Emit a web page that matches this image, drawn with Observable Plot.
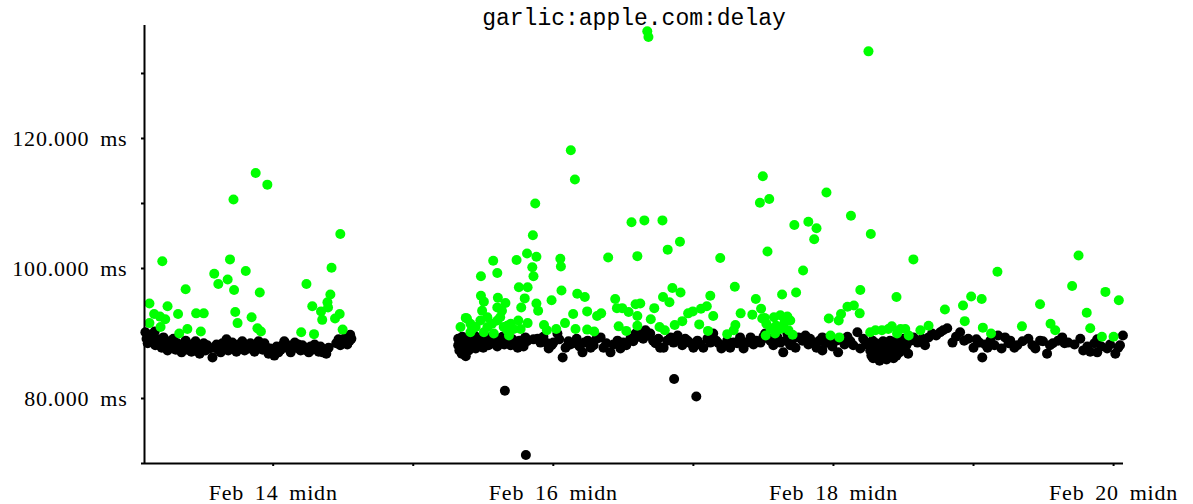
<!DOCTYPE html>
<html><head><meta charset="utf-8">
<script src="https://cdn.jsdelivr.net/npm/d3@7"></script>
<script src="https://cdn.jsdelivr.net/npm/@observablehq/plot@0.6"></script>
<style>
body{margin:0;background:#fff}
g[aria-label$="tick label"]{letter-spacing:0.8px;word-spacing:4.5px}
</style>
</head><body><div id="chart"></div>
<script>
const title = "garlic:apple.com:delay";
// time is hours after Feb 13 00:00, value is delay in ms
const startDate = Date.UTC(2009, 1, 13);
const xDomainHours = [1.95, 169.7];
const yDomain = [70, 137.38];
const xTickDays = [14, 15, 16, 17, 18, 19, 20];
const xLabelDays = [14, 16, 18, 20];
const yTicks = [70, 80, 90, 100, 110, 120, 130];
const yLabelTicks = [80, 100, 120];

const blackPeriod1 = [[2.1,90.2],[2.3,89.2],[2.5,88.5],[2.8,89.8],[3.0,88.9],[3.3,89.5],[3.7,90.3],[3.8,88.2],[4.2,89.1],[4.5,88.6],[4.9,87.8],[5.2,89.4],[5.5,88.3],[5.9,87.4],[6.2,88.8],[6.6,88.0],[6.9,89.2],[7.3,87.5],[7.6,88.5],[7.9,87.8],[8.3,87.1],[8.6,88.2],[9.0,88.9],[9.3,87.5],[9.7,88.3],[10.0,87.2],[10.3,88.0],[10.7,88.8],[11.0,87.7],[11.4,86.9],[11.7,88.0],[12.1,88.5],[12.4,87.4],[12.7,88.2],[13.1,87.7],[13.6,86.3],[13.9,87.8],[14.3,88.3],[14.6,87.5],[15.0,87.1],[15.3,88.5],[15.7,87.8],[16.0,89.1],[16.3,87.4],[16.7,88.2],[17.0,88.6],[17.4,87.7],[17.7,87.2],[18.1,88.3],[18.4,87.8],[18.7,88.8],[19.1,87.4],[19.4,88.2],[19.8,87.7],[20.1,88.5],[20.5,87.8],[20.8,87.2],[21.1,88.0],[21.5,88.8],[21.8,88.3],[22.2,87.5],[22.5,88.5],[22.9,87.8],[23.2,86.9],[23.5,87.7],[23.9,87.4],[24.2,86.6],[24.6,88.0],[24.9,87.1],[25.3,87.5],[25.6,88.2],[25.9,88.8],[26.3,88.3],[26.6,87.7],[27.0,87.1],[27.3,88.0],[27.7,88.6],[28.0,87.8],[28.3,88.3],[28.7,87.4],[29.0,88.2],[29.4,87.5],[29.7,87.8],[30.1,87.1],[30.4,88.0],[30.7,87.5],[31.1,88.3],[31.4,87.7],[31.8,87.2],[32.1,88.0],[32.5,87.1],[32.8,87.5],[33.1,86.9],[33.5,87.8],[34.8,88.5],[35.2,89.1],[35.5,88.2],[36.0,88.8],[36.4,89.4],[36.7,88.3],[37.1,88.9],[37.2,89.8],[37.4,89.2]];

const greenPeriod1 = [[21.0,114.7],[23.0,112.9],[17.2,110.6],[35.5,105.3],[5.0,101.1],[16.6,101.4],[34.0,100.1],[19.3,99.6],[13.9,99.2],[16.2,98.3],[14.6,97.6],[29.7,97.6],[9.0,96.8],[17.3,96.7],[21.7,96.3],[33.8,96.0],[2.8,94.6],[5.9,94.2],[33.3,94.8],[33.4,94.0],[30.7,94.2],[32.2,93.4],[3.6,93.0],[4.6,92.6],[5.5,92.2],[7.7,93.0],[10.8,93.1],[12.1,93.1],[17.5,93.3],[20.3,92.5],[32.4,92.1],[34.6,92.3],[35.4,93.0],[17.9,91.6],[2.8,91.6],[4.7,91.0],[9.3,90.7],[11.6,90.3],[21.3,90.8],[21.9,90.3],[7.9,90.0],[28.8,90.2],[31.0,89.9],[35.9,90.6]];

const blackPeriod2 = [[55.7,89.2],[55.7,88.2],[55.9,87.4],[56.1,88.8],[56.3,86.9],[56.4,89.5],[56.6,87.8],[56.8,88.6],[57.0,86.5],[57.1,89.1],[57.3,88.3],[57.5,87.4],[57.8,89.4],[58.0,88.0],[58.1,88.8],[58.5,89.7],[58.7,87.7],[58.8,88.5],[59.2,89.2],[59.3,88.2],[59.5,88.9],[59.9,89.5],[60.0,87.8],[60.4,88.6],[60.7,89.1],[60.9,88.2],[61.2,89.4],[61.6,88.5],[61.7,89.7],[62.1,88.9],[62.4,88.0],[62.8,89.2],[62.9,88.6],[63.3,89.5],[63.6,88.3],[64.0,89.2],[64.3,88.8],[64.7,88.2],[65.0,89.1],[65.5,88.6],[65.9,87.8],[66.2,88.9],[66.5,88.3],[66.9,88.0],[67.2,89.4],[67.5,88.8],
[68.6,89.1],[69.3,89.2],[69.8,88.6],[70.3,89.5],[71.0,88.5],[71.2,87.7],[71.7,88.2],[72.0,88.6],[72.7,90.0],[73.0,89.1],[73.6,86.3],[74.1,87.8],[74.6,88.8],[74.9,88.3],[75.4,88.5],[76.0,89.2],[76.5,88.0],[77.0,87.1],[77.3,88.6],[77.9,88.9],[78.4,87.8],[78.9,88.2],[79.4,89.2],[80.1,89.4],[80.6,87.8],[81.1,88.5],[81.8,87.1],[82.3,88.3],[83.0,88.9],[83.5,87.7],[84.0,88.6],[84.5,88.2],[85.2,89.2],[85.7,88.8],[86.1,90.0],[86.6,89.5],
[86.9,90.2],[87.4,89.2],[87.8,90.5],[88.3,89.7],[88.6,90.0],[89.1,88.9],[89.5,88.5],[90.0,89.2],[90.3,87.8],[90.9,87.8],[91.5,88.9],[92.1,89.4],[92.6,88.6],[93.3,89.7],[93.8,88.9],[94.1,88.2],[94.6,89.2],[95.0,88.9],[95.5,88.5],[96.0,87.8],[96.7,88.9],[97.2,88.3],[97.7,87.8],[98.4,89.2],[98.9,88.6],[99.4,90.0],[99.9,88.9],[100.3,88.5],[100.8,87.7],[101.3,88.2],[101.8,88.9],[102.3,87.8],[102.9,88.6],[103.5,88.5],[104.0,89.4],[104.6,87.7],[105.1,88.6],[105.8,89.4],[106.3,88.3],[106.8,88.9],[107.5,88.6],[108.0,89.5],[108.3,90.0],[108.9,89.2],[109.2,88.9],[109.7,88.2],[110.1,89.7],[110.4,89.4],[110.9,88.6],[111.4,87.1],[111.8,88.9],[112.1,90.0],[112.6,88.2],[113.1,89.2],[113.5,87.8],[114.0,89.4],
[114.7,88.9],[115.2,89.7],[115.7,88.3],[116.0,89.2],[116.6,88.6],[117.1,87.8],[117.6,88.9],[118.1,89.4],[118.1,87.4],[118.6,88.5],[119.3,89.1],[119.8,88.0],[120.5,88.9],[120.8,87.1],[121.3,89.1],[121.9,88.3],[122.4,89.5],[122.9,88.8],[123.4,88.2],[124.1,90.2],[124.6,87.7],[125.1,89.2],[125.6,88.5],
[126.0,88.2],[126.3,87.4],[126.5,86.6],[126.7,88.9],[126.8,86.2],[127.0,87.8],[127.2,87.1],[127.3,88.5],[127.5,86.5],[127.7,87.5],[127.9,85.8],[128.0,88.2],[128.2,87.1],[128.4,86.3],[128.5,88.8],[128.7,87.7],[128.9,86.8],[129.1,86.0],[129.2,88.2],[129.4,87.2],[129.6,86.5],[129.7,88.9],[129.9,87.8],[130.1,86.9],[130.3,86.2],[130.4,88.3],[130.6,87.4],[130.8,86.6],[130.9,88.9],[131.1,87.8],[131.3,87.1],[131.5,88.5],[131.8,87.5],[132.1,89.2],[132.5,88.2],
[132.8,86.9],[133.2,88.9],[133.7,89.4],[134.4,88.6],[135.2,89.2],[135.7,88.2],[136.3,89.4],[136.9,90.0],[137.6,89.7],[138.3,90.2],[138.8,90.5],[139.5,90.8],[140.4,88.6],[141.0,89.5],[141.7,90.2],[142.4,88.9],[143.1,89.2],[144.0,87.8],[144.5,89.1],[145.0,88.6],[145.5,86.3],[146.0,88.3],[146.4,87.8],[146.9,88.9],[147.6,88.2],[148.2,89.7],
[148.8,87.7],[149.4,89.4],[150.0,88.5],[150.3,88.9],[151.0,87.8],[151.5,88.2],[152.4,88.8],[153.4,89.2],[154.1,88.2],[154.6,87.7],[155.4,88.9],[155.9,88.8],[156.6,86.9],[157.1,88.2],[157.6,88.5],[158.5,88.9],[159.2,89.4],[159.6,88.5],[160.2,88.6],[161.3,88.3],[162.3,89.2],[162.8,87.4],[163.5,88.0],[164.0,87.2],[164.7,88.5],[165.2,89.1],[165.2,87.1],[165.9,88.0],[166.9,87.7],[167.4,88.3],[168.3,86.9],[168.8,87.8],[169.1,88.2],[169.6,89.7]];

const blackOutliers = [[63.7,81.2],[67.3,71.3],[92.7,83.0],[96.5,80.3]];

const greenPeriod2 = [[88.1,136.5],[88.3,135.6],[126.0,133.4],[75.0,118.2],[75.7,113.7],[68.9,110.0],[85.4,107.1],[68.5,105.1],[67.5,102.3],[69.1,101.8],[65.7,101.3],[61.7,101.2],[73.2,101.5],[73.3,100.3],[81.4,101.7],[86.4,101.9],[68.4,100.2],[68.6,98.8],[62.4,99.3],[59.6,98.8],[66.1,97.1],[67.6,97.1],[73.4,96.6],[59.6,95.8],[76.1,96.1],[77.4,95.6],[62.5,95.5],[60.1,94.9],[67.1,95.4],[63.8,94.7],[71.7,95.1],[82.6,95.3],[66.5,94.0],[69.1,94.6],[69.4,93.5],[63.2,93.5],[59.8,93.5],[77.8,93.4],[82.9,93.9],[83.8,93.9],[84.9,93.3],[86.1,94.5],[80.2,93.1],[79.5,92.7],[75.4,93.0],[57.0,92.4],[60.7,92.5],[62.9,92.5],[66.0,92.0],[67.6,91.6],[74.0,91.6],[70.4,91.3],[72.5,90.7],[75.8,90.7],[77.8,90.6],[79.0,90.3],[83.2,91.1],[84.5,90.4],[86.4,91.2],[56.1,91.0],[64.4,89.7],[66.4,90.7],[70.9,90.5],
[57.8,91.5],[58.7,91.0],[59.5,92.0],[60.7,91.0],[61.5,91.5],[62.4,92.0],[63.5,91.0],[64.1,90.5],[64.7,91.5],[65.2,90.7],[57.8,90.2],[60.1,90.2],[61.8,90.0],[57.2,92.3],[58.1,90.7],[62.4,94.0],[64.1,91.2],
[107.9,114.2],[109.0,110.7],[107.4,110.1],[118.8,111.7],[87.6,107.4],[90.7,107.4],[93.7,104.1],[91.6,102.9],[100.6,101.6],[108.7,102.6],[113.3,106.7],[115.7,107.2],[117.1,106.2],[116.7,104.5],[114.8,99.7],[103.1,97.2],[113.6,96.3],[111.2,96.0],[92.4,97.0],[93.8,96.3],[90.8,95.6],[91.9,94.8],[98.9,95.8],[106.7,95.3],[86.9,94.6],[89.3,93.9],[98.3,94.2],[97.3,93.8],[107.6,93.8],[95.9,93.4],[95.1,93.1],[104.1,93.1],[106.1,92.9],[99.4,92.7],[86.4,92.7],[88.7,92.2],[94.1,91.9],[92.8,91.3],[97.0,91.4],[103.2,91.3],[108.2,92.4],[110.9,92.8],[112.1,92.6],[90.2,91.0],[91.1,90.5],[98.5,90.4],[101.8,89.9],[102.9,90.5],[119.2,92.3],[119.5,89.7],
[108.5,91.5],[109.8,92.5],[109.2,90.8],[110.2,91.2],[110.9,90.7],[111.6,91.7],[112.3,90.5],[112.6,92.0],[110.0,90.0],[107.8,92.3],[108.4,89.7],[113.0,89.8],
[123.0,108.1],[126.4,105.3],[133.7,101.4],[148.1,99.5],[124.6,96.7],[130.8,95.6],[123.5,94.3],[122.4,94.1],[121.3,93.0],[124.5,93.1],[120.9,92.0],[139.1,93.7],[143.6,95.7],[145.4,95.3],[142.2,94.3],[142.5,91.9],[145.6,90.9],[147.0,90.0],[121.0,89.4],[126.3,90.2],[128.3,90.5],[130.0,91.1],[132.3,90.7],[132.9,89.7],[134.9,90.5],[136.3,91.2],[130.9,90.0],[127.2,90.5],[129.4,90.7],[131.5,90.7],
[162.0,102.0],[160.9,97.3],[166.6,96.4],[168.9,95.1],[155.4,94.5],[163.4,93.2],[164.0,90.8],[157.2,91.5],[158.0,90.5],[152.3,91.1],[166.0,89.5],[168.0,89.5]];

const toDate = h => new Date(startDate + h * 3600e3);
const rows = (arr) => arr.map(([h, v]) => ({time: toDate(h), delay: v}));
const black = rows([...blackPeriod1, ...blackPeriod2, ...blackOutliers]);
const green = rows([...greenPeriod1, ...greenPeriod2]);
const dayDate = d => new Date(Date.UTC(2009, 1, d));

const chart = Plot.plot({
  width: 1193,
  height: 504,
  marginLeft: 144,
  marginRight: 70,
  marginTop: 25,
  marginBottom: 41,
  style: {fontFamily: "'Liberation Serif', serif", fontSize: "22px", background: "#fff", color: "#000"},
  x: {type: "utc", domain: xDomainHours.map(toDate)},
  y: {domain: yDomain},
  marks: [
    Plot.dot(black, {x: "time", y: "delay", r: 5, fill: "#000"}),
    Plot.dot(green, {x: "time", y: "delay", r: 5, fill: "#00ff00"}),
    Plot.ruleX([toDate(xDomainHours[0])], {stroke: "#000", strokeWidth: 2}),
    Plot.ruleY([yDomain[0]], {stroke: "#000", strokeWidth: 2}),
    Plot.axisY(yTicks, {tickSize: 3, tickPadding: 14, strokeWidth: 2, fontSize: 22,
      tickFormat: d => yLabelTicks.includes(d) ? d.toFixed(3) + " ms" : "", label: null}),
    Plot.axisX(xTickDays.map(dayDate), {tickSize: 3, tickPadding: 18, strokeWidth: 2, fontSize: 22,
      tickFormat: d => xLabelDays.includes(d.getUTCDate()) ? `Feb ${d.getUTCDate()} midn` : "", label: null}),
    Plot.text([title], {frameAnchor: "top", lineAnchor: "middle", dy: -7.4, fontFamily: "'Liberation Mono', monospace", fontSize: 23, fill: "#000"})
  ]
});
document.getElementById("chart").appendChild(chart);
</script>
</body></html>
